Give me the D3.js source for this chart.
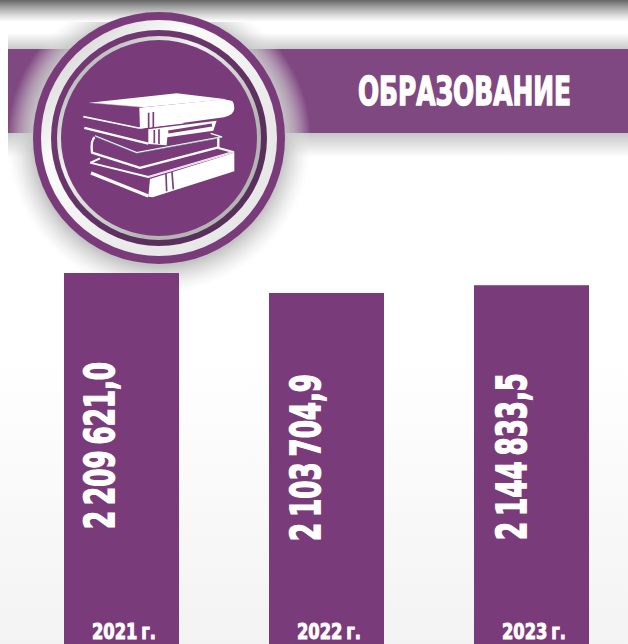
<!DOCTYPE html>
<html>
<head>
<meta charset="utf-8">
<script src="https://cdn.jsdelivr.net/npm/d3@7"></script>
<style>
  html, body { margin: 0; padding: 0; background: #fff; }
  svg { display: block; }
  text { font-family: "DejaVu Sans", sans-serif; font-weight: 700; fill: #fff; stroke: #fff; word-spacing: -0.12em; }
</style>
</head>
<body>
<div id="chart"></div>
<script>
const title = 'ОБРАЗОВАНИЕ';
const years = ['2021 г.', '2022 г.', '2023 г.'];
const values = [2209621.0, 2103704.9, 2144833.5];
const valueLabels = ['2 209 621,0', '2 103 704,9', '2 144 833,5'];

const width = 628;
const height = 644;
const purple = '#7a3b7a';
const bandPurple = '#7f4881';

const svg = d3.select('#chart').append('svg')
  .attr('width', width)
  .attr('height', height);
const defs = svg.append('defs');

// vertical or diagonal gradient helper
const gradient = (id, stops, x2 = 0, y2 = 1) => {
  const g = defs.append('linearGradient')
    .attr('id', id)
    .attr('x1', 0).attr('y1', 0)
    .attr('x2', x2).attr('y2', y2);
  stops.forEach(s => g.append('stop')
    .attr('offset', s[0])
    .attr('stop-color', s[1])
    .attr('stop-opacity', s[2] === undefined ? 1 : s[2]));
};

// squeezes a text sideways to a given width, there is no Impact-like font here
const squeeze = (sel, targetWidth) => sel.each(function () {
  const node = d3.select(this);
  const k = targetWidth / this.getComputedTextLength();
  node.attr('transform', `${node.attr('transform') || ''} scale(${k},1)`);
});

gradient('page', [[0, '#fff'], [0.55, '#fff'], [1, '#f3f3f3']]);
gradient('topShade', [[0, '#666'], [0.3, '#9c9c9c'], [0.7, '#dcdcdc'], [1, '#fff']]);
gradient('bandAbove', [[0, '#fff'], [1, '#c9c9c9']]);
gradient('bandBelow', [[0, '#c6c6c6'], [1, '#fff']]);
gradient('whiteRing', [[0, '#c4c4c4'], [0.45, '#fcfcfc'], [1, '#e8e8e8']], 0.7, 0.7);
gradient('darkRing', [[0, '#7a3b7a'], [1, '#59305c']], 0.7, 0.7);
gradient('innerRing', [[0, '#9a9a9a'], [0.5, '#f2f2f2'], [1, '#b5b5b5']], 0.7, 0.7);

const halo = defs.append('radialGradient')
  .attr('id', 'halo')
  .attr('gradientUnits', 'userSpaceOnUse')
  .attr('cx', 159).attr('cy', 141).attr('r', 152);
[[0.82, '#c4c4c4', 1], [0.9, '#d4d4d4', 0.6], [1, '#e8e8e8', 0]].forEach(s => halo.append('stop')
  .attr('offset', s[0])
  .attr('stop-color', s[1])
  .attr('stop-opacity', s[2]));

// page background and header shading
svg.append('rect').attr('width', width).attr('height', height).attr('fill', 'url(#page)');
svg.append('rect').attr('x', 8).attr('y', 33).attr('width', width - 8).attr('height', 16).attr('fill', 'url(#bandAbove)');
svg.append('rect').attr('x', 8).attr('y', 133).attr('width', width - 8).attr('height', 24).attr('fill', 'url(#bandBelow)');
svg.append('rect').attr('x', 8).attr('y', 49).attr('width', width - 8).attr('height', 84).attr('fill', bandPurple);

svg.append('circle')
  .attr('cx', 159).attr('cy', 141).attr('r', 152)
  .attr('fill', 'url(#halo)');
svg.append('rect').attr('width', width).attr('height', 22).attr('fill', 'url(#topShade)');

svg.append('text')
  .attr('transform', 'translate(358,105)')
  .attr('font-size', 39)
  .attr('stroke-width', 1.6)
  .text(title)
  .call(squeeze, 213);

// badge
const badge = svg.append('g').attr('transform', 'translate(159,138)');
[[126, purple], [118, 'url(#whiteRing)'], [108, 'url(#darkRing)'], [102, 'url(#innerRing)'], [98, purple]]
  .forEach(r => badge.append('circle').attr('r', r[0]).attr('fill', r[1]));

// books icon, traced in 3x pixel space
const books = svg.append('g')
  .attr('transform', 'scale(0.3333)')
  .attr('stroke-linejoin', 'round');
const solid = [
  'M268,308 L530,280 L680,298 L430,322 Z',
  'M418,323 L672,298 L697,303 Q703,310 703,325 Q703,345 672,352 L420,386 Z',
  'M445,388 L650,362 L640,392 L502,412 L500,436 L445,432 Z',
  'M450,537 L703,458 L703,514 L458,592 L445,590 Z'
];
books.selectAll('path.solid').data(solid).join('path')
  .attr('class', 'solid')
  .attr('d', d => d)
  .attr('fill', '#fff');

const outlines = [
  ['M250,350 L416,384 L550,368', 5, '#fff'],
  ['M253,384 L445,431', 7, '#fff'],
  ['M284,412 Q272,420 276,458 L420,504 L655,442 L655,412', 7, '#fff'],
  ['M285,408 L410,458 L665,411 L632,400', 4, '#fff'],
  ['M285,409 L410,460 L665,412', 1.5, '#3f9a80'],
  ['M272,488 L300,475 M270,488 L445,531 L700,456 L655,444', 6, '#fff'],
  ['M273,519 L445,588', 10, '#fff'],
  ['M268,308 L430,322', 1.5, '#c59ac8'],
  ['M445,531 L700,456', 1.5, '#c59ac8'],
  ['M505,396 L636,375', 9, purple],
  ['M446,338 L446,384 M460,336 L460,384', 5, purple],
  ['M463,390 L463,430 M477,388 L477,432', 5, purple],
  ['M498,522 L500,574 M516,516 L520,568', 5, purple]
];
books.selectAll('path.line').data(outlines).join('path')
  .attr('class', 'line')
  .attr('d', d => d[0])
  .attr('fill', 'none')
  .attr('stroke-width', d => d[1])
  .attr('stroke', d => d[2]);

// bars run off the bottom of the picture, zero sits below the crop
const x = d3.scaleBand()
  .domain(years)
  .range([64, 589])
  .paddingInner(0.439)
  .paddingOuter(0);
const y = d3.scaleLinear()
  .domain([0, d3.max(values)])
  .range([690, 273]);

svg.selectAll('rect.bar').data(values).join('rect')
  .attr('class', 'bar')
  .attr('x', (d, i) => x(years[i]))
  .attr('y', d => y(d))
  .attr('width', x.bandwidth())
  .attr('height', d => y(0) - y(d))
  .attr('fill', purple);

// where each rotated value label starts, the source placed them by hand
const labelStartY = [529, 541, 540];
svg.selectAll('text.value').data(valueLabels).join('text')
  .attr('class', 'value')
  .attr('transform', (d, i) => `translate(${x(years[i]) + 50 + i},${labelStartY[i]}) rotate(-90)`)
  .attr('font-size', 41)
  .attr('stroke-width', 1.7)
  .text(d => d)
  .call(squeeze, 167);

svg.selectAll('text.year').data(years).join('text')
  .attr('class', 'year')
  .attr('transform', d => `translate(${x(d) + 28},638.5)`)
  .attr('font-size', 21.5)
  .attr('stroke-width', 1)
  .text(d => d)
  .call(squeeze, 64);
</script>
</body>
</html>
